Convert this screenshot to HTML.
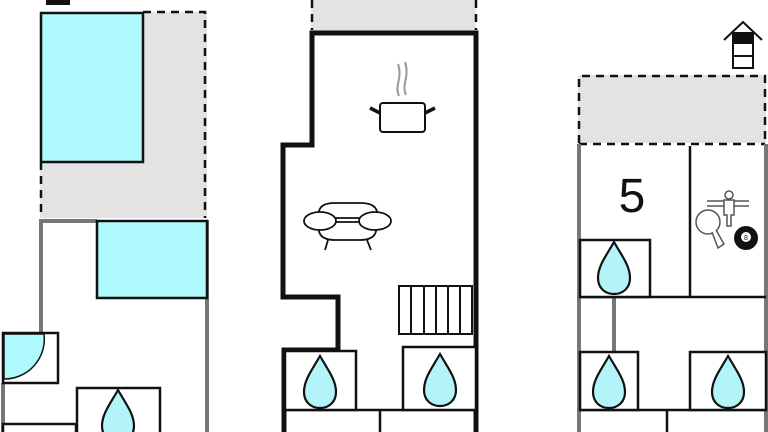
<!DOCTYPE html>
<html><head><meta charset="utf-8"><style>html,body{margin:0;padding:0;background:#fff;width:768px;height:432px;overflow:hidden}</style></head>
<body>
<svg width="768" height="432" viewBox="0 0 768 432" xmlns="http://www.w3.org/2000/svg">
<defs>
<path id="drop" d="M0,-26 C8,-12 16,-2 16,10 C16,20 9,26 0,26 C-9,26 -16,20 -16,10 C-16,-2 -8,-12 0,-26 Z" fill="#b3f4f8" stroke="#111" stroke-width="2.2"/>
</defs>
<!-- LEFT BUILDING -->
<rect x="40" y="12" width="167" height="206" fill="#e3e3e3"/>
<path d="M143,12 H205 V218 M41,162 V218" fill="none" stroke="#111" stroke-width="2.5" stroke-dasharray="8,6"/>
<rect x="46" y="0" width="24" height="5" fill="#111"/>
<rect x="41" y="13" width="102" height="149" fill="#adf9fc" stroke="#111" stroke-width="2.5"/>
<path d="M41,332 V221 H97 M207,220 V432 M3,383 V432" fill="none" stroke="#777" stroke-width="4"/>
<rect x="97" y="221" width="110" height="77" fill="#adf9fc" stroke="#111" stroke-width="2.5"/>
<rect x="3" y="333" width="55" height="50" fill="#fff" stroke="#111" stroke-width="2.5"/>
<path d="M4,334 H44 A40,40 0 0 1 4,379 Z" fill="#adf9fc" stroke="#111" stroke-width="1.5"/>
<rect x="77" y="388" width="83" height="50" fill="#fff" stroke="#111" stroke-width="2.5"/>
<use href="#drop" x="118" y="416"/>
<rect x="3" y="424" width="73" height="12" fill="#fff" stroke="#111" stroke-width="2.5"/>
<!-- MIDDLE BUILDING -->
<rect x="311" y="0" width="165" height="33" fill="#e3e3e3"/>
<path d="M312,0 V30 M476,0 V30" fill="none" stroke="#111" stroke-width="2.5" stroke-dasharray="8,6"/>
<path d="M476,432 V33 H312 V145 H283 V297 H338 V350 H284 V432" fill="none" stroke="#111" stroke-width="5"/>
<path d="M284,410 H476 M380,410 V432" fill="none" stroke="#111" stroke-width="2.5"/>
<rect x="285" y="351" width="71" height="59" fill="#fff" stroke="#111" stroke-width="2.5"/>
<rect x="403" y="347" width="73" height="63" fill="#fff" stroke="#111" stroke-width="2.5"/>
<use href="#drop" x="320" y="382"/>
<use href="#drop" x="440" y="380"/>
<rect x="399" y="286" width="73" height="48" fill="#fff" stroke="#111" stroke-width="2"/>
<path d="M411,286 V334 M424,286 V334 M436,286 V334 M448,286 V334 M460,286 V334" stroke="#111" stroke-width="2"/>
<!-- pot -->
<path d="M399,96 C394,86 403,78 398,64 M406,95 C401,85 410,77 405,62" fill="none" stroke="#999" stroke-width="2"/>
<rect x="380" y="103" width="45" height="29" rx="3" fill="#fff" stroke="#111" stroke-width="2"/>
<path d="M380,113 L370,108 M425,113 L435,108" stroke="#111" stroke-width="3.5"/>
<!-- sofa -->
<g fill="#fff" stroke="#111" stroke-width="1.8">
<path d="M318,218 C318,205 325,203 335,203 H360 C370,203 378,205 378,218 Z"/>
<path d="M320,222 C316,234 322,240 335,240 H360 C373,240 379,234 375,222 Z"/>
<ellipse cx="320" cy="221" rx="16" ry="9"/>
<ellipse cx="375" cy="221" rx="16" ry="9"/>
<path d="M328,240 L325,250 M367,240 L371,250"/>
</g>
<!-- RIGHT BUILDING -->
<rect x="578" y="75" width="188" height="68" fill="#e3e3e3"/>
<path d="M579,143 V76 H765 V143 M579,144 H765" fill="none" stroke="#111" stroke-width="2.5" stroke-dasharray="8,6"/>
<path d="M579,144 V432 M766,144 V432 M614,297 V352" fill="none" stroke="#777" stroke-width="4"/>
<path d="M690,146 V297 M579,297 H766 M579,410 H766 M667,410 V432" fill="none" stroke="#111" stroke-width="2.5"/>
<text x="632" y="212" font-family="Liberation Sans, sans-serif" font-size="48" text-anchor="middle" fill="#111">5</text>
<rect x="580" y="240" width="70" height="57" fill="#fff" stroke="#111" stroke-width="2.5"/>
<use href="#drop" x="614" y="268"/>
<rect x="580" y="352" width="58" height="58" fill="#fff" stroke="#111" stroke-width="2.5"/>
<use href="#drop" x="609" y="382"/>
<rect x="690" y="352" width="76" height="58" fill="#fff" stroke="#111" stroke-width="2.5"/>
<use href="#drop" x="728" y="382"/>
<!-- game icons -->
<g fill="none" stroke="#555" stroke-width="1.5">
<path d="M707,201 H749 M707,206 H749"/>
<circle cx="729" cy="195" r="4" fill="#fff"/>
<path d="M724,200 H734 V215 H731 V226 H727 V215 H724 Z" fill="#fff"/>
<circle cx="708" cy="222" r="12" fill="#fff"/>
<path d="M712,232 L718,248 L724,244 L716,230" fill="#fff"/>
</g>
<circle cx="746" cy="238" r="12" fill="#111"/>
<circle cx="746" cy="237" r="5" fill="#fff"/>
<text x="746" y="240" font-family="Liberation Sans, sans-serif" font-size="7" text-anchor="middle" fill="#111">8</text>
<!-- house icon -->
<path d="M724,40 L743,22 L762,40" fill="none" stroke="#111" stroke-width="2"/>
<rect x="733" y="33" width="20" height="35" fill="#fff" stroke="#111" stroke-width="2"/>
<rect x="733" y="33" width="20" height="11" fill="#111"/>
<path d="M733,56 H753" stroke="#111" stroke-width="2"/>
</svg>
</body></html>
